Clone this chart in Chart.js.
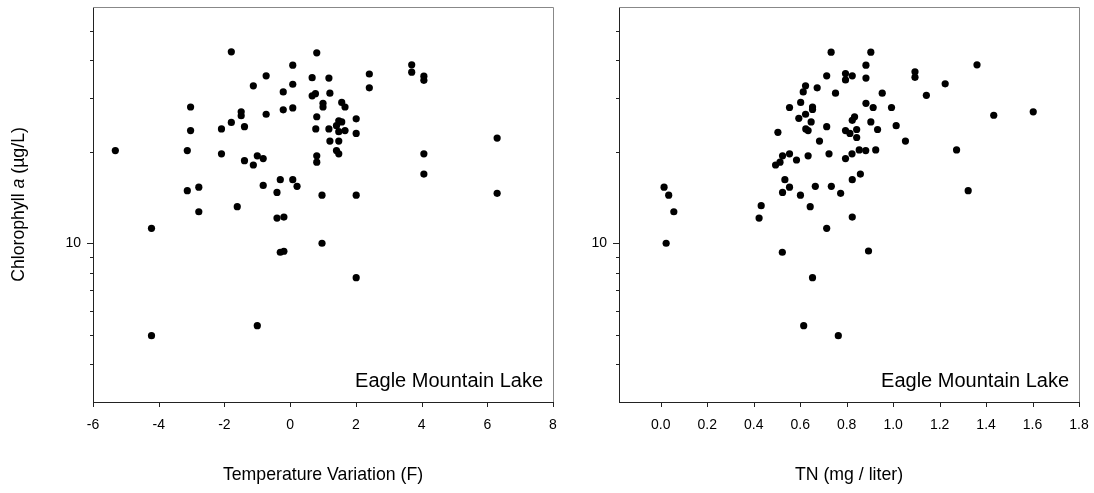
<!DOCTYPE html>
<html>
<head>
<meta charset="utf-8">
<script src="https://cdn.jsdelivr.net/npm/chart.js@4/dist/chart.umd.min.js"></script>
<style>
  html, body { margin: 0; padding: 0; background: #fff; }
  #wrap { position: relative; width: 1094px; height: 493px; }
  canvas { position: absolute; top: 0; }
</style>
</head>
<body>
<div id="wrap">
  <canvas id="chartTemp" width="580" height="493" style="left:0"></canvas>
  <canvas id="chartTN" width="514" height="493" style="left:580px"></canvas>
</div>
<script>
const FONT = '"Liberation Sans", Arial, sans-serif';

// left panel: temperature variation vs chlorophyll a
const tempVariation = [
  -1.79, 0.08, -0.73, -1.12, 0.08, -0.21, -3.03, -0.21, 0.08, -1.49,
  -1.49, -0.73, -1.79, -2.09, -1.39, -3.03, -5.32, -3.13, -2.09, -1.00,
  -0.82, -1.39, -1.12, -3.13, -2.78, -0.82, -0.30, 0.08, 0.21, -0.40,
  -2.78, -1.61, -0.40, -0.19, -4.22, -0.30, -0.19, -1.00, -4.22,
  0.81, 3.70, 2.41, 0.67, 1.18, 3.70, 4.07, 4.07, 2.41, 0.67,
  0.77, 1.21, 1.00, 1.00, 1.57, 1.67, 0.81, 2.01, 1.48, 1.57,
  1.41, 0.78, 1.18, 1.48, 1.67, 2.01, 1.21, 1.48, 1.41, 1.48,
  6.30, 0.81, 0.81, 4.07, 4.07, 6.30, 0.97, 2.01, 0.97, 2.01
];
const chlTemp = [
  42.7, 38.6, 35.6, 33.0, 33.4, 31.5, 28.1, 27.5, 27.9, 27.1,
  26.3, 26.6, 25.0, 23.8, 24.2, 23.5, 20.2, 20.2, 19.7, 19.4,
  19.0, 18.7, 18.1, 14.9, 15.3, 15.5, 16.2, 16.2, 15.4, 14.7,
  12.7, 13.2, 12.1, 12.2, 11.2, 9.34, 9.41, 5.35, 4.96,
  42.4, 38.7, 36.1, 35.1, 35.0, 36.6, 35.5, 34.4, 32.5, 30.6,
  31.1, 31.2, 28.9, 28.1, 29.1, 28.1, 26.1, 25.7, 25.3, 25.1,
  24.4, 23.8, 23.8, 23.3, 23.5, 23.0, 21.7, 21.7, 20.2, 19.7,
  22.2, 19.4, 18.5, 19.7, 16.9, 14.6, 14.4, 14.4, 10.0, 7.70
];

// right panel: total nitrogen vs chlorophyll a
const tnValues = [
  0.733, 0.795, 0.795, 0.824, 0.714, 0.623, 0.673, 0.613, 0.752, 0.602,
  0.554, 0.653, 0.653, 0.623, 0.594, 0.834, 0.824, 0.647, 0.714, 0.624,
  0.634, 0.795, 0.814, 0.843, 0.504, 0.683, 0.843, 0.724, 0.634, 0.554,
  0.524, 0.584, 0.513, 0.494, 0.795, 0.823, 0.534, 0.824, 0.554, 0.665,
  0.734, 0.524, 0.601, 0.774, 0.014, 0.034, 0.056, 0.432, 0.423, 0.643,
  0.824, 0.714, 0.023, 0.523, 0.653, 0.615, 0.764, 0.904, 0.883, 1.361,
  0.883, 1.094, 1.094, 1.224, 0.953, 1.143, 0.883, 0.914, 0.993, 1.433,
  1.603, 0.904, 1.013, 0.933, 1.053, 0.854, 0.882, 0.925, 1.273, 0.859,
  1.323, 0.894
];
const chlTN = [
  42.6, 36.2, 34.5, 35.6, 35.6, 33.0, 32.5, 31.5, 31.2, 29.1,
  28.0, 28.1, 27.6, 26.6, 25.8, 26.1, 25.4, 25.1, 24.2, 23.8,
  23.5, 23.5, 23.0, 23.7, 23.2, 21.7, 22.3, 19.7, 19.4, 19.7,
  19.4, 18.8, 18.5, 18.1, 19.0, 19.7, 16.2, 16.2, 15.3, 15.4,
  15.4, 14.7, 14.4, 14.6, 15.3, 14.4, 12.7, 13.3, 12.1, 13.2,
  12.2, 11.2, 10.0, 9.34, 7.70, 5.35, 4.96, 42.6, 38.6, 38.7,
  35.0, 36.7, 35.2, 33.5, 31.2, 30.7, 28.9, 28.0, 28.0, 26.4,
  27.1, 25.1, 24.4, 23.7, 21.7, 20.3, 20.2, 20.3, 20.3, 16.9,
  14.9, 9.43
];

const tempTicks = [-6, -4, -2, 0, 2, 4, 6, 8];
const tnTicks = [0, 0.2, 0.4, 0.6, 0.8, 1.0, 1.2, 1.4, 1.6, 1.8];
const chlMajorTicks = [10];
const chlMinorTicks = [4, 5, 6, 7, 8, 9, 20, 30, 40, 50];
const lakeName = 'Eagle Mountain Lake';

function toPoints(xs, ys) {
  return xs.map((x, i) => ({x: x, y: ys[i]}));
}

// grey top/right frame, tick marks and the lake name
const framePlugin = {
  id: 'frame',
  afterDraw(chart, args, opts) {
    const ctx = chart.ctx;
    const a = chart.chartArea;
    const sx = chart.scales.x, sy = chart.scales.y;
    ctx.save();
    ctx.lineWidth = 1;
    ctx.strokeStyle = '#888';
    ctx.beginPath();
    ctx.moveTo(a.left, a.top + 0.5);
    ctx.lineTo(a.right + 0.5, a.top + 0.5);
    ctx.lineTo(a.right + 0.5, a.bottom);
    ctx.stroke();

    ctx.strokeStyle = '#222';
    ctx.beginPath();
    opts.xTicks.forEach(v => {
      const px = Math.round(sx.getPixelForValue(v)) + 0.5;
      ctx.moveTo(px, a.bottom);
      ctx.lineTo(px, a.bottom + 5);
    });
    chlMajorTicks.forEach(v => {
      const py = Math.round(sy.getPixelForValue(v)) + 0.5;
      ctx.moveTo(a.left - 6, py);
      ctx.lineTo(a.left, py);
    });
    chlMinorTicks.forEach(v => {
      const py = Math.round(sy.getPixelForValue(v)) + 0.5;
      ctx.moveTo(a.left - 3, py);
      ctx.lineTo(a.left, py);
    });
    ctx.stroke();

    ctx.fillStyle = '#000';
    ctx.font = '20px ' + FONT;
    ctx.textAlign = 'right';
    ctx.textBaseline = 'alphabetic';
    ctx.fillText(lakeName, a.right - 10, a.bottom - 15);
    ctx.restore();
  }
};

// y title has an italic "a", so it is drawn in pieces
const yTitlePlugin = {
  id: 'yTitle',
  afterDraw(chart) {
    const ctx = chart.ctx;
    const a = chart.chartArea;
    const parts = [
      {t: 'Chlorophyll ', s: 'normal'},
      {t: 'a', s: 'italic'},
      {t: ' (\u00b5g/L)', s: 'normal'}
    ];
    ctx.save();
    let total = 0;
    parts.forEach(p => {
      ctx.font = p.s + ' 17.7px ' + FONT;
      p.w = ctx.measureText(p.t).width;
      total += p.w;
    });
    ctx.translate(19, (a.top + a.bottom) / 2);
    ctx.rotate(-Math.PI / 2);
    ctx.textBaseline = 'middle';
    ctx.textAlign = 'left';
    ctx.fillStyle = '#000';
    let x = -total / 2;
    parts.forEach(p => {
      ctx.font = p.s + ' 17.7px ' + FONT;
      ctx.fillText(p.t, x, 0);
      x += p.w;
    });
    ctx.restore();
  }
};

function makeChart(id, xs, ys, cfg) {
  return new Chart(document.getElementById(id).getContext('2d'), {
    type: 'scatter',
    data: {
      datasets: [{
        data: toPoints(xs, ys),
        backgroundColor: '#000',
        borderWidth: 0,
        pointRadius: 3.6,
        pointHoverRadius: 3.6
      }]
    },
    options: {
      responsive: false,
      animation: false,
      events: [],
      layout: {padding: {top: 7, right: cfg.rightPad, bottom: 0, left: 0}},
      plugins: {
        legend: {display: false},
        tooltip: {enabled: false},
        frame: {xTicks: cfg.xTicks}
      },
      scales: {
        x: {
          type: 'linear',
          min: cfg.xMin,
          max: cfg.xMax,
          afterBuildTicks: s => { s.ticks = cfg.xTicks.map(v => ({value: v})); },
          afterFit: s => {
            s.height = 91;
            s.paddingLeft = 0;
            s.paddingRight = 0;
          },
          grid: {display: false, drawTicks: false},
          border: {display: true, color: '#222', width: 1},
          ticks: {
            padding: 15,
            color: '#000',
            maxRotation: 0,
            autoSkip: false,
            font: {family: FONT, size: 14},
            callback: cfg.fmt
          },
          title: {
            display: true,
            text: cfg.xTitle,
            color: '#000',
            font: {family: FONT, size: 17.7},
            padding: {top: 0, bottom: 7}
          }
        },
        y: {
          type: 'logarithmic',
          min: 3,
          max: 60,
          afterBuildTicks: s => { s.ticks = chlMajorTicks.map(v => ({value: v})); },
          afterFit: s => {
            s.width = cfg.yWidth;
            s.paddingTop = 0;
            s.paddingBottom = 0;
          },
          grid: {display: false, drawTicks: false},
          border: {display: true, color: '#222', width: 1},
          ticks: {
            padding: 12,
            color: '#000',
            font: {family: FONT, size: 14},
            callback: v => String(v)
          }
        }
      }
    },
    plugins: cfg.plugins
  });
}

makeChart('chartTemp', tempVariation, chlTemp, {
  xMin: -6, xMax: 8, xTicks: tempTicks,
  xTitle: 'Temperature Variation (F)',
  fmt: v => String(v),
  yWidth: 93, rightPad: 27,
  plugins: [framePlugin, yTitlePlugin]
});

makeChart('chartTN', tnValues, chlTN, {
  xMin: -0.18, xMax: 1.8, xTicks: tnTicks,
  xTitle: 'TN (mg / liter)',
  fmt: v => v.toFixed(1),
  yWidth: 39, rightPad: 15,
  plugins: [framePlugin]
});
</script>
</body>
</html>
